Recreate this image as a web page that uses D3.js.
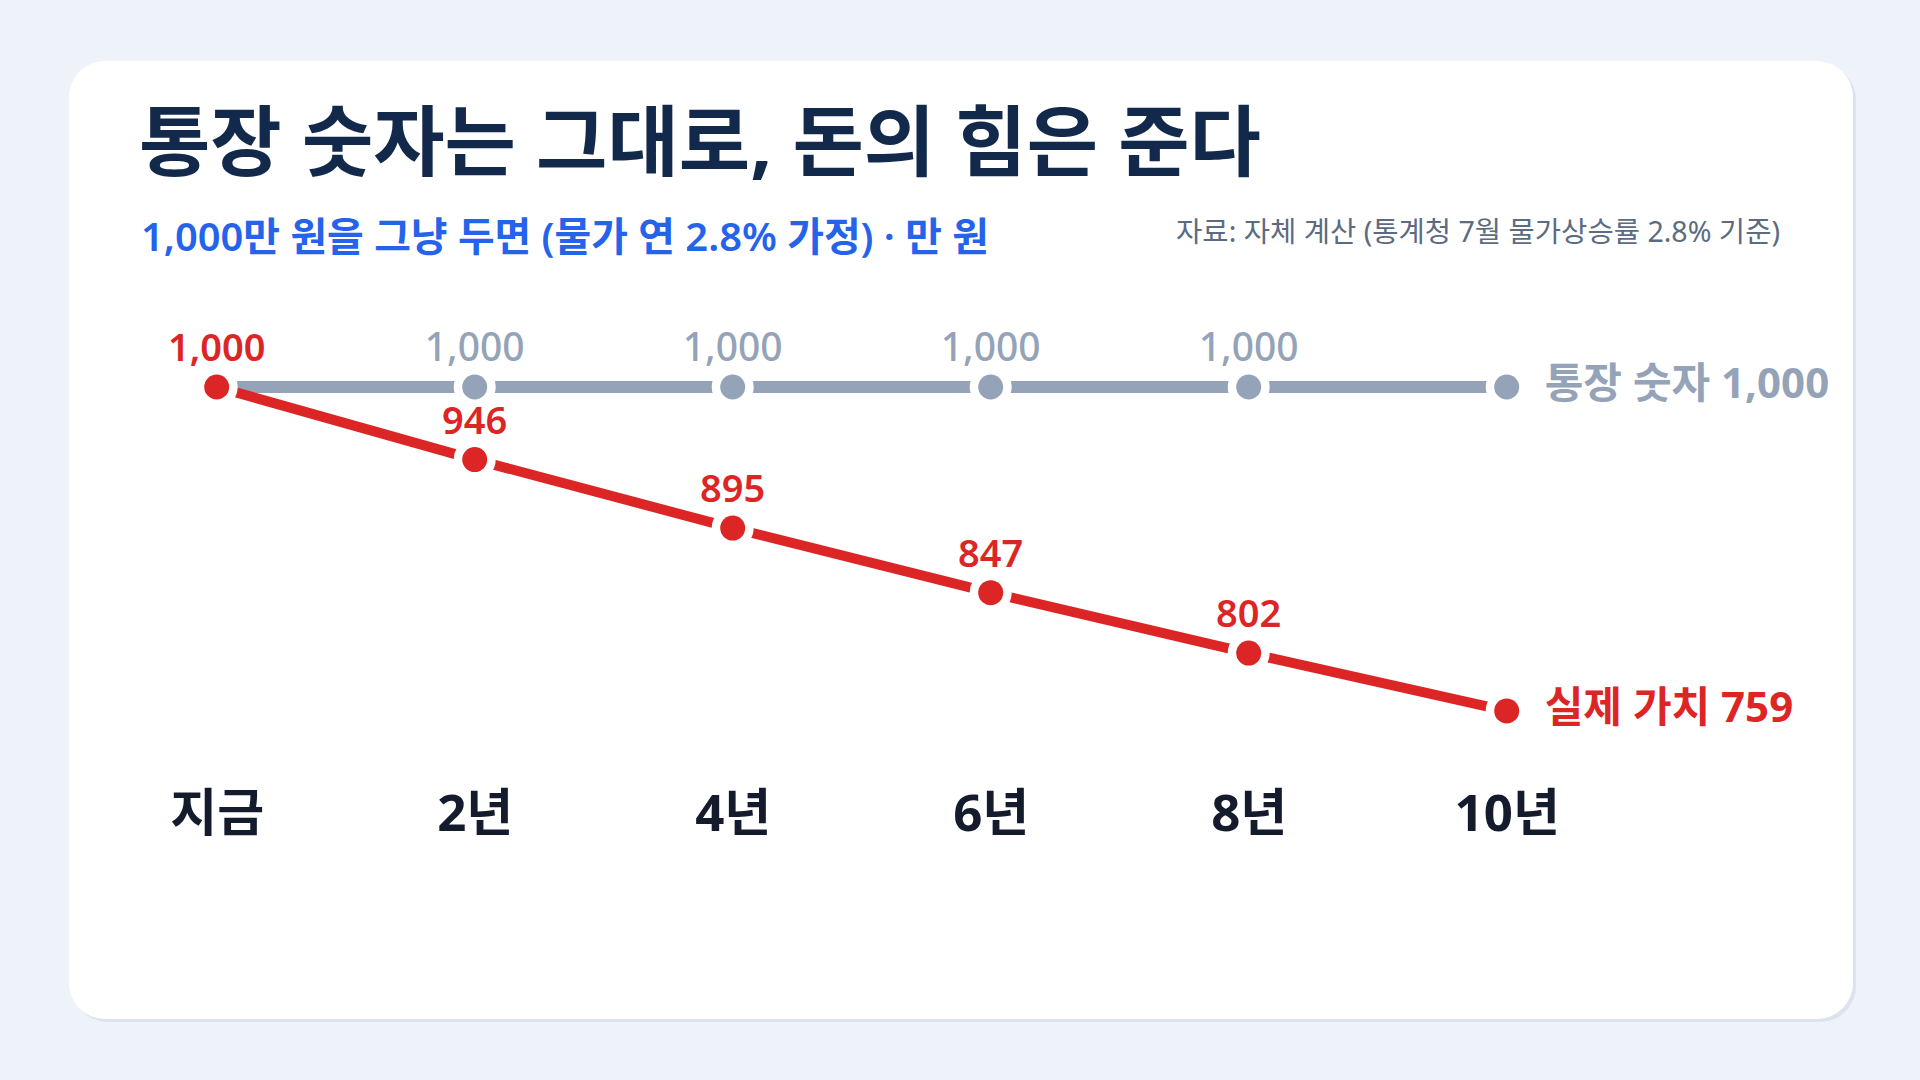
<!DOCTYPE html>
<html lang="ko">
<head>
<meta charset="utf-8">
<script src="https://cdn.jsdelivr.net/npm/d3@7/dist/d3.min.js"></script>
<style>
  html, body { margin: 0; padding: 0; background: #eef2f9; }
  body { width: 1920px; height: 1080px; overflow: hidden; }
  svg { display: block; font-family: "Noto Sans", "Noto Sans CJK KR", sans-serif; }
</style>
</head>
<body>
<svg id="chart" width="1920" height="1080"></svg>
<script>
// ---- data ----
const categories = ["지금", "2년", "4년", "6년", "8년", "10년"];
const nominalValues = [1000, 1000, 1000, 1000, 1000, 1000];
const realValues = [1000, 946, 895, 847, 802, 759];
const titleText = "통장 숫자는 그대로, 돈의 힘은 준다";
const subtitleText = "1,000만 원을 그냥 두면 (물가 연 2.8% 가정) · 만 원";
const sourceText = "자료: 자체 계산 (통계청 7월 물가상승률 2.8% 기준)";
const nominalLabel = "통장 숫자 1,000";
const realLabel = "실제 가치 759";

const RED = "#dc2626", GRAY = "#94a3b8", BLUE = "#2563eb", NAVY = "#13294b", INK = "#141b2c";
const fmt = d3.format(",");

const svg = d3.select("#chart");

// fit a text element to a target width by scaling its font size
function fit(sel, target) {
  const fs = +sel.attr("font-size");
  const w = sel.node().getComputedTextLength();
  if (w > 0) sel.attr("font-size", (fs * target / w).toFixed(2));
  return sel;
}

// card
svg.append("rect").attr("x", 72).attr("y", 64).attr("width", 1784).attr("height", 958)
  .attr("rx", 36).attr("fill", "#dde3ec");
svg.append("rect").attr("x", 69).attr("y", 61).attr("width", 1784).attr("height", 958)
  .attr("rx", 36).attr("fill", "#ffffff");

// titles
fit(svg.append("text").attr("x", 139).attr("y", 170).text(titleText)
  .attr("font-size", 77).attr("font-weight", 700).attr("fill", NAVY), 1122);
fit(svg.append("text").attr("x", 141).attr("y", 251).text(subtitleText)
  .attr("font-size", 38).attr("font-weight", 600).attr("fill", BLUE), 848);
fit(svg.append("text").attr("x", 1780).attr("y", 242).text(sourceText)
  .attr("text-anchor", "end").attr("font-size", 27).attr("font-weight", 400).attr("fill", "#5b6b82"), 604);

// scales
const x = d3.scalePoint().domain(categories).range([216.7, 1506.7]);
const y = d3.scaleLinear().domain([750, 1000]).range([723, 387]);

const nominal = categories.map((c, i) => ({ c, v: nominalValues[i], i }));
const real = categories.map((c, i) => ({ c, v: realValues[i], i }));

const line = d3.line().x(d => x(d.c)).y(d => y(d.v));

// x-axis labels
const xAxis = d3.axisBottom(x).tickSize(0).tickPadding(0);
const gx = svg.append("g").attr("transform", "translate(0,795)").call(xAxis);
gx.select(".domain").remove();
gx.selectAll("text").attr("font-size", 51).attr("font-weight", 700).attr("fill", INK)
  .attr("font-family", "\"Noto Sans\", \"Noto Sans CJK KR\", sans-serif").attr("dy", "0.71em");

// lines
svg.append("path").datum(nominal).attr("d", line).attr("fill", "none")
  .attr("stroke", GRAY).attr("stroke-width", 12);
svg.append("path").datum(real).attr("d", line).attr("fill", "none")
  .attr("stroke", RED).attr("stroke-width", 10);

// dots
function dots(data, color) {
  svg.append("g").selectAll("circle").data(data).join("circle")
    .attr("cx", d => x(d.c)).attr("cy", d => y(d.v)).attr("r", 12.5)
    .attr("fill", color).attr("stroke", "#ffffff").attr("stroke-width", 17)
    .attr("paint-order", "stroke");
}
dots(nominal.filter(d => d.i > 0), GRAY);
dots(real, RED);

// value labels
svg.append("g").selectAll("text").data(nominal.filter(d => d.i > 0 && d.i < categories.length - 1)).join("text")
  .attr("x", d => x(d.c)).attr("y", d => y(d.v) - 26).attr("text-anchor", "middle")
  .attr("font-size", 39).attr("font-weight", 500).attr("fill", GRAY).text(d => fmt(d.v));
svg.append("g").selectAll("text").data(real.filter(d => d.i < categories.length - 1)).join("text")
  .attr("x", d => x(d.c)).attr("y", d => y(d.v) - 26).attr("text-anchor", "middle")
  .attr("font-size", 38).attr("font-weight", 600).attr("fill", RED).text(d => fmt(d.v));

// end labels
const last = categories.length - 1;
svg.append("text").attr("x", x(categories[last]) + 38).attr("y", y(nominalValues[last]) + 11)
  .attr("font-size", 42).attr("font-weight", 700).attr("fill", GRAY).text(nominalLabel);
svg.append("text").attr("x", x(categories[last]) + 38).attr("y", y(realValues[last]) + 11)
  .attr("font-size", 42).attr("font-weight", 700).attr("fill", RED).text(realLabel);
</script>
</body>
</html>
